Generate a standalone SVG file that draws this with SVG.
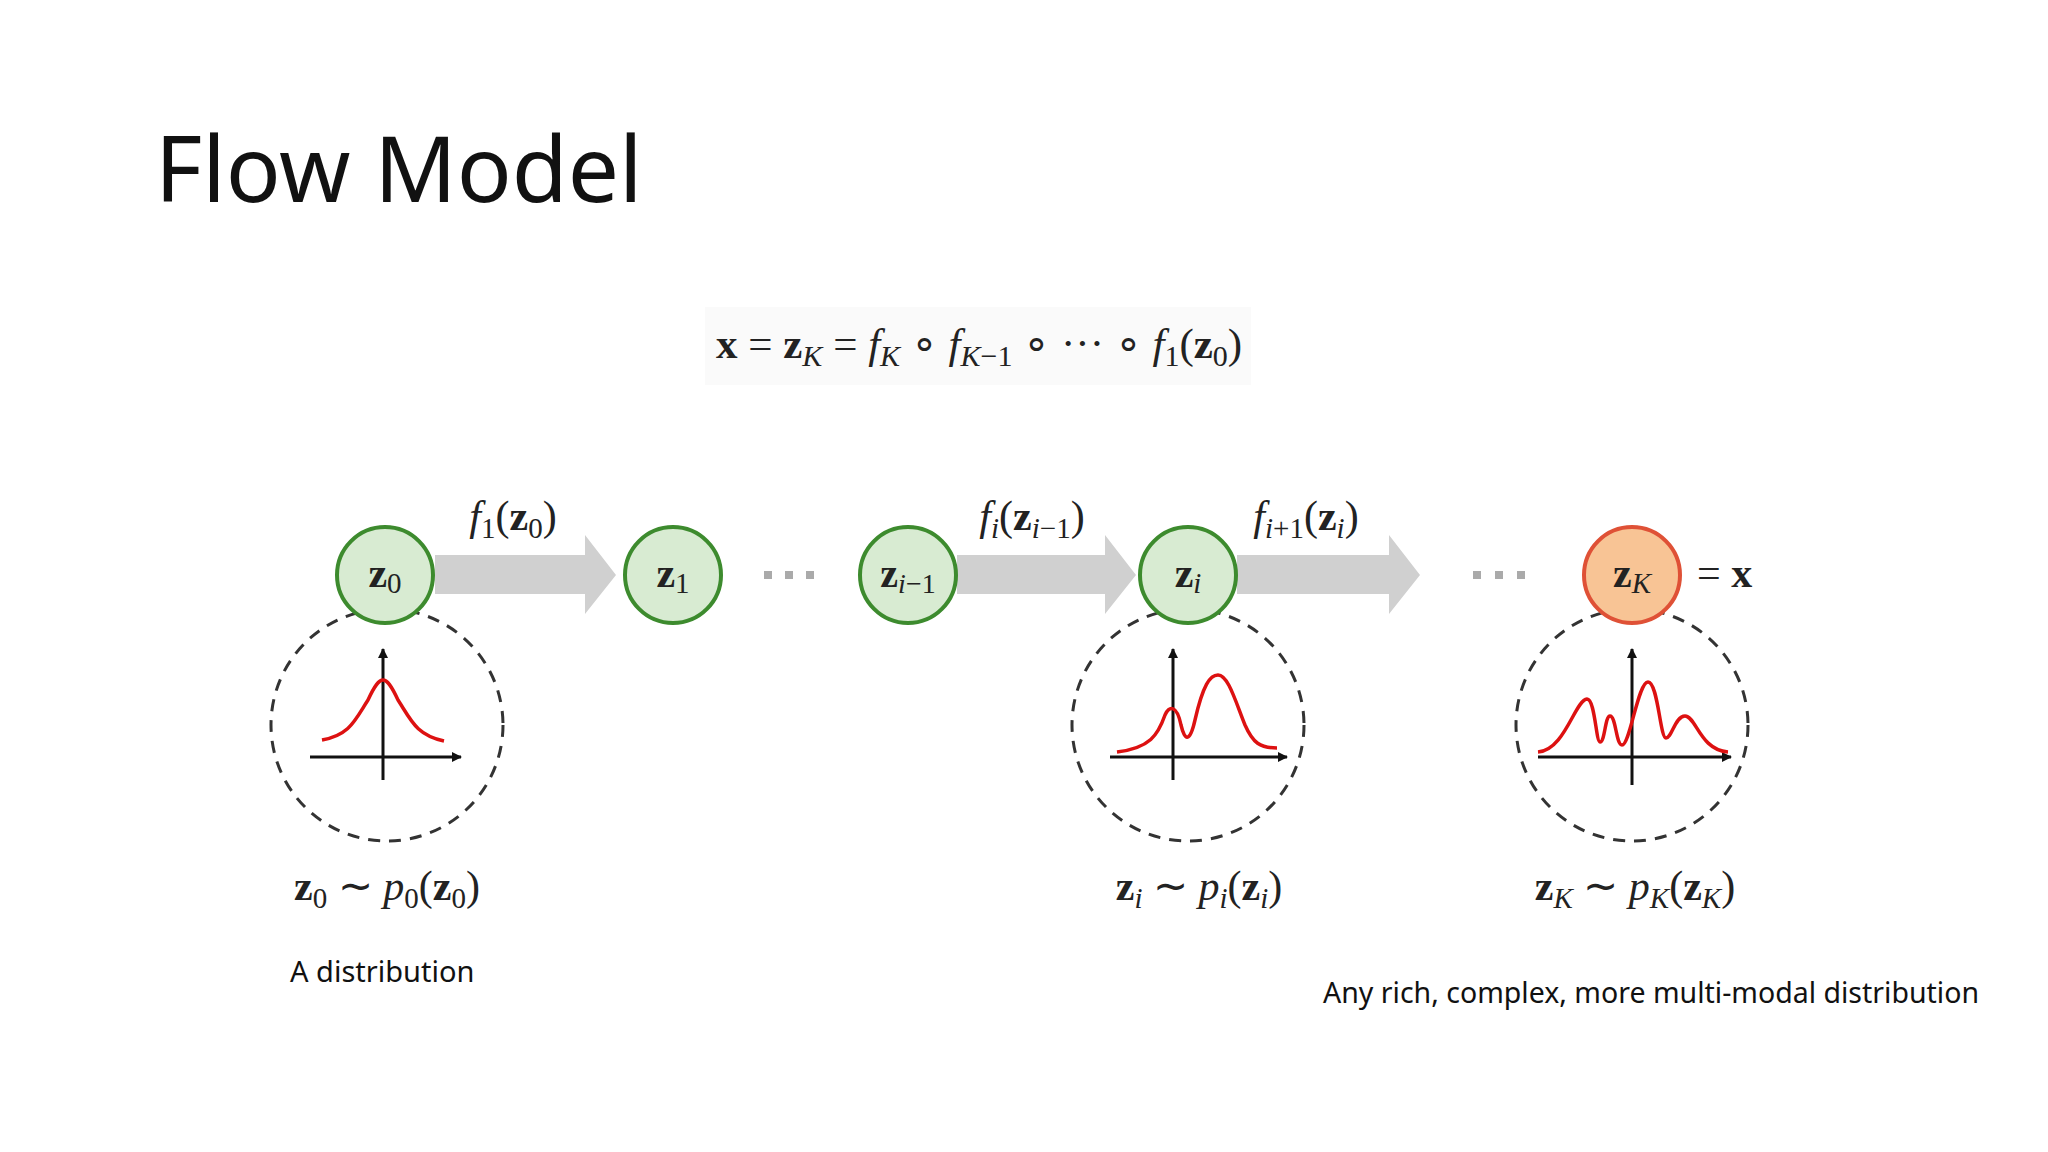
<svg xmlns="http://www.w3.org/2000/svg" width="2048" height="1152" viewBox="0 0 2048 1152">
<style>
.m{font-family:"Liberation Serif",serif;fill:#222}
.b{font-weight:bold}
.i{font-style:italic}
.node{fill:#d8ebd2;stroke:#3d8b2e;stroke-width:4}
.dash{fill:none;stroke:#333;stroke-width:3;stroke-dasharray:12 9}
.ax{stroke:#111;stroke-width:3;fill:none}
.curve{stroke:#dd1111;stroke-width:3.5;fill:none}
.arr{fill:#d0d0d0}
.dot{fill:#aaa}
.s{font-family:"Noto Sans","Liberation Sans",sans-serif;fill:#111}
</style>
<defs>
<marker id="ah" markerWidth="10" markerHeight="10" refX="9" refY="5" orient="auto" markerUnits="userSpaceOnUse" viewBox="0 0 10 10"><path d="M0,0 L10,5 L0,10 z" fill="#111"/></marker>
</defs>
<rect width="2048" height="1152" fill="#fff"/>
<text x="155" y="202" class="s" font-size="91">Flow Model</text>
<g id="formula">
<rect x="705" y="307" width="546" height="78" fill="#fafafa"/>
<text x="716" y="358" class="m" font-size="43"><tspan class="b">x</tspan> = <tspan class="b">z</tspan><tspan class="i" font-size="30" dy="8">K</tspan><tspan dy="-8"> = </tspan><tspan class="i">f</tspan><tspan class="i" font-size="30" dy="8">K</tspan><tspan dy="-8"> ∘ </tspan><tspan class="i">f</tspan><tspan class="i" font-size="30" dy="8">K</tspan><tspan font-size="30">−1</tspan><tspan dy="-8"> ∘ ··· ∘ </tspan><tspan class="i">f</tspan><tspan font-size="30" dy="8">1</tspan><tspan dy="-8">(</tspan><tspan class="b">z</tspan><tspan font-size="30" dy="8">0</tspan><tspan dy="-8">)</tspan></text>
</g>
<g id="connectors">
<path class="arr" d="M435,555 H585 V535 L616,575 L585,614 V594 H435 z"/>
<path class="arr" d="M957,555 H1105 V535 L1136,575 L1105,614 V594 H957 z"/>
<path class="arr" d="M1237,555 H1389 V535 L1420,575 L1389,614 V594 H1237 z"/>
<rect class="dot" x="764" y="571" width="8" height="8"/><rect class="dot" x="785" y="571" width="8" height="8"/><rect class="dot" x="806" y="571" width="8" height="8"/>
<rect class="dot" x="1473" y="571" width="8" height="8"/><rect class="dot" x="1495" y="571" width="8" height="8"/><rect class="dot" x="1517" y="571" width="8" height="8"/>
<text x="513" y="530" class="m" font-size="42" text-anchor="middle"><tspan class="i">f</tspan><tspan font-size="29" dy="8">1</tspan><tspan dy="-8">(</tspan><tspan class="b">z</tspan><tspan font-size="29" dy="8">0</tspan><tspan dy="-8">)</tspan></text>
<text x="1032" y="530" class="m" font-size="42" text-anchor="middle"><tspan class="i">f</tspan><tspan class="i" font-size="29" dy="8">i</tspan><tspan dy="-8">(</tspan><tspan class="b">z</tspan><tspan class="i" font-size="29" dy="8">i</tspan><tspan font-size="29">−1</tspan><tspan dy="-8">)</tspan></text>
<text x="1306" y="530" class="m" font-size="42" text-anchor="middle"><tspan class="i">f</tspan><tspan class="i" font-size="29" dy="8">i</tspan><tspan font-size="29">+1</tspan><tspan dy="-8">(</tspan><tspan class="b">z</tspan><tspan class="i" font-size="29" dy="8">i</tspan><tspan dy="-8">)</tspan></text>
</g>
<g id="z0">
<circle class="dash" cx="387" cy="725" r="116"/>
<circle class="node" cx="385" cy="575" r="48"/>
<text x="385" y="587" class="m" font-size="42" text-anchor="middle"><tspan class="b">z</tspan><tspan font-size="29" dy="6">0</tspan></text>
<line class="ax" x1="310" y1="757" x2="461" y2="757" marker-end="url(#ah)"/>
<line class="ax" x1="383" y1="780" x2="383" y2="649" marker-end="url(#ah)"/>
<path class="curve" d="M322,740 C350,735 355,720 368,700 C375,685 379,680 383,680 C387,680 391,685 398,700 C411,720 416,735 444,741"/>
<text x="387" y="900" class="m" font-size="42" text-anchor="middle"><tspan class="b">z</tspan><tspan font-size="29" dy="8">0</tspan><tspan dy="-8"> ∼ </tspan><tspan class="i">p</tspan><tspan font-size="29" dy="8">0</tspan><tspan dy="-8">(</tspan><tspan class="b">z</tspan><tspan font-size="29" dy="8">0</tspan><tspan dy="-8">)</tspan></text>
</g>
<g id="z1">
<circle class="node" cx="673" cy="575" r="48"/>
<text x="673" y="587" class="m" font-size="42" text-anchor="middle"><tspan class="b">z</tspan><tspan font-size="29" dy="6">1</tspan></text>
</g>
<g id="zim1">
<circle class="node" cx="908" cy="575" r="48"/>
<text x="908" y="587" class="m" font-size="40" text-anchor="middle"><tspan class="b">z</tspan><tspan class="i" font-size="28" dy="6">i</tspan><tspan font-size="28">−1</tspan></text>
</g>
<g id="zi">
<circle class="dash" cx="1188" cy="725" r="116"/>
<circle class="node" cx="1188" cy="575" r="48"/>
<text x="1188" y="587" class="m" font-size="42" text-anchor="middle"><tspan class="b">z</tspan><tspan class="i" font-size="29" dy="6">i</tspan></text>
<line class="ax" x1="1110" y1="757" x2="1287" y2="757" marker-end="url(#ah)"/>
<line class="ax" x1="1173" y1="780" x2="1173" y2="649" marker-end="url(#ah)"/>
<path class="curve" d="M1117,752 C1150,748 1158,735 1165,715 C1169,705 1177,705 1181,725 C1185,742 1190,742 1195,720 C1203,685 1210,675 1218,675 C1228,675 1235,700 1245,725 C1253,743 1260,748 1277,748"/>
<text x="1199" y="900" class="m" font-size="42" text-anchor="middle"><tspan class="b">z</tspan><tspan class="i" font-size="29" dy="8">i</tspan><tspan dy="-8"> ∼ </tspan><tspan class="i">p</tspan><tspan class="i" font-size="29" dy="8">i</tspan><tspan dy="-8">(</tspan><tspan class="b">z</tspan><tspan class="i" font-size="29" dy="8">i</tspan><tspan dy="-8">)</tspan></text>
</g>
<g id="zK">
<circle class="dash" cx="1632" cy="725" r="116"/>
<circle cx="1632" cy="575" r="48" fill="#f8c495" stroke="#df5136" stroke-width="4"/>
<text x="1632" y="587" class="m" font-size="42" text-anchor="middle"><tspan class="b">z</tspan><tspan class="i" font-size="29" dy="6">K</tspan></text>
<text x="1697" y="587" class="m" font-size="42">= <tspan class="b">x</tspan></text>
<line class="ax" x1="1538" y1="757" x2="1731" y2="757" marker-end="url(#ah)"/>
<line class="ax" x1="1632" y1="785" x2="1632" y2="649" marker-end="url(#ah)"/>
<path class="curve" d="M1538,752 C1565,750 1575,700 1587,699 C1595,699 1596,742 1600,742 C1605,742 1605,716 1610,716 C1616,716 1616,745 1622,745 C1630,745 1638,682 1648,682 C1658,682 1660,738 1666,738 C1672,738 1675,716 1685,716 C1696,716 1700,750 1728,752"/>
<text x="1635" y="900" class="m" font-size="42" text-anchor="middle"><tspan class="b">z</tspan><tspan class="i" font-size="29" dy="8">K</tspan><tspan dy="-8"> ∼ </tspan><tspan class="i">p</tspan><tspan class="i" font-size="29" dy="8">K</tspan><tspan dy="-8">(</tspan><tspan class="b">z</tspan><tspan class="i" font-size="29" dy="8">K</tspan><tspan dy="-8">)</tspan></text>
</g>
<text x="290" y="982" class="s" font-size="29">A distribution</text>
<text x="1323" y="1003" class="s" font-size="28.5">Any rich, complex, more multi-modal distribution</text>
</svg>
